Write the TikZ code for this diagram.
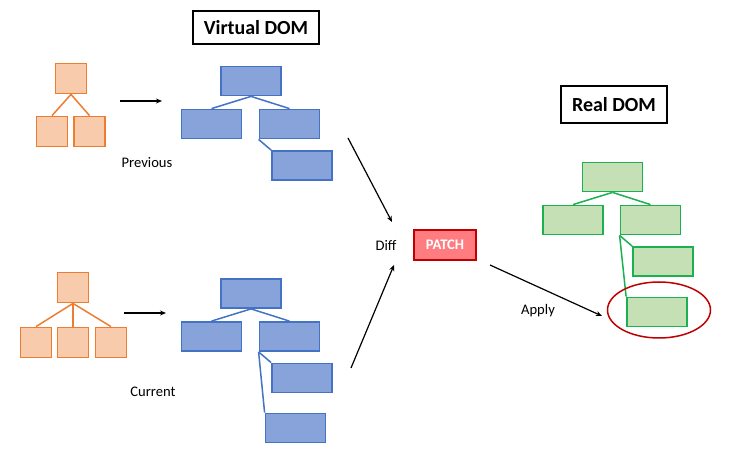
\documentclass[tikz,border=0pt]{standalone}
\usepackage{fontspec}
\setmainfont{Carlito}
\usetikzlibrary{arrows.meta}
\definecolor{orfill}{HTML}{F8CBAD}
\definecolor{ordraw}{HTML}{ED7D31}
\definecolor{blfill}{HTML}{87A3D9}
\definecolor{bldraw}{HTML}{4472C4}
\definecolor{grfill}{HTML}{C5E0B4}
\definecolor{grdraw}{HTML}{1DB050}
\definecolor{patchfill}{HTML}{FF7C80}
\definecolor{darkred}{HTML}{C00000}
\tikzset{
  obox/.style={draw=ordraw, fill=orfill, line width=1.8pt, minimum width=31pt, minimum height=30pt, inner sep=0pt},
  bbox/.style={draw=bldraw, fill=blfill, line width=1.8pt, minimum width=60pt, minimum height=29pt, inner sep=0pt},
  gbox/.style={draw=grdraw, fill=grfill, line width=1.8pt, minimum width=60pt, minimum height=29pt, inner sep=0pt},
  oline/.style={draw=ordraw, line width=1.5pt},
  bline/.style={draw=bldraw, line width=1.5pt},
  gline/.style={draw=grdraw, line width=1.5pt},
  flow/.style={draw=black, line width=1.2pt, -{Stealth[length=6pt,width=5pt]}},
  title/.style={draw=black, line width=2.2pt, font=\fontsize{20}{24}\selectfont\bfseries, inner sep=0pt},
  lbl/.style={font=\fontsize{14.6}{17}\selectfont, inner sep=0pt}
}
\begin{document}
\begin{tikzpicture}[x=1pt, y=-1pt]
\useasboundingbox (0,0) rectangle (740,470);

% headings
\node[title, minimum width=126pt, minimum height=33pt] (vdom) at (256,27.5) {Virtual DOM};
\node[title, minimum width=106pt, minimum height=37pt] (rdom) at (614,104.5) {Real DOM};

% previous tree (orange)
\node[obox] (pa) at (71,78.5) {};
\node[obox] (pb) at (52,131.5) {};
\node[obox] (pc) at (89.5,131.5) {};
\draw[oline] (pa.south) -- (pb.north);
\draw[oline] (pa.south) -- (pc.north);

% previous virtual tree (blue)
\node[bbox] (va) at (251,81) {};
\node[bbox] (vb) at (211.5,124) {};
\node[bbox] (vc) at (289.5,124) {};
\node[bbox] (vd) at (302,165.5) {};
\draw[bline] (va.south) -- (vb.north);
\draw[bline] (va.south) -- (vc.north);
\draw[bline] (vc.south west) -- (vd.north west);

% current tree (orange)
\node[obox] (ca) at (73,287.5) {};
\node[obox] (cb) at (36,342.5) {};
\node[obox] (cc) at (73,342.5) {};
\node[obox] (cd) at (111,342.5) {};
\draw[oline] (ca.south) -- (cb.north);
\draw[oline] (ca.south) -- (cc.north);
\draw[oline] (ca.south) -- (cd.north);

% current virtual tree (blue)
\node[bbox] (wa) at (251,293.5) {};
\node[bbox] (wb) at (211.5,336.5) {};
\node[bbox] (wc) at (289.5,336.5) {};
\node[bbox] (wd) at (302,378) {};
\node[bbox] (we) at (295.5,428) {};
\draw[bline] (wa.south) -- (wb.north);
\draw[bline] (wa.south) -- (wc.north);
\draw[bline] (wc.south west) -- (wd.north west);
\draw[bline] (wc.south west) -- (we.north west);

% real tree (green)
\node[gbox] (ra) at (612.5,177) {};
\node[gbox] (rb) at (573,220) {};
\node[gbox] (rc) at (650.5,220) {};
\node[gbox] (rd) at (663,261.5) {};
\node[gbox] (re) at (657,312) {};
\draw[gline] (ra.south) -- (rb.north);
\draw[gline] (ra.south) -- (rc.north);
\draw[gline] (rc.south west) -- (rd.north west);
\draw[gline] (rc.south west) -- (re.north west);
\draw[darkred, line width=1.5pt] (re.center) ++(2,-2) ellipse [x radius=51.5pt, y radius=28pt];

% labels
\node[lbl] (prev) at (147,163) {Previous};
\node[lbl] (curr) at (153,392) {Current};
\node[lbl] (diff) at (386,245) {Diff};
\node[lbl] (apply) at (538,311) {Apply};
\node[draw=darkred, fill=patchfill, line width=1.5pt, minimum width=62pt, minimum height=30pt, inner sep=0pt,
      text=white, font=\fontsize{14.6}{17}\selectfont\bfseries] (patch) at (445,245) {PATCH};

% flow arrows
\coordinate (a1s) at (120,101);
\coordinate (a1e) at (162,101);
\coordinate (a2s) at (124,313);
\coordinate (a2e) at (166,313);
\coordinate (d1s) at (348,138);
\coordinate (d1e) at (392,222);
\coordinate (d2s) at (351,368);
\coordinate (d2e) at (394,265);
\coordinate (aps) at (490,265);
\coordinate (ape) at (602,316);
\draw[flow] (a1s) -- (a1e);
\draw[flow] (a2s) -- (a2e);
\draw[flow] (d1s) -- (d1e);
\draw[flow] (d2s) -- (d2e);
\draw[flow] (aps) -- (ape);
\end{tikzpicture}
\end{document}
